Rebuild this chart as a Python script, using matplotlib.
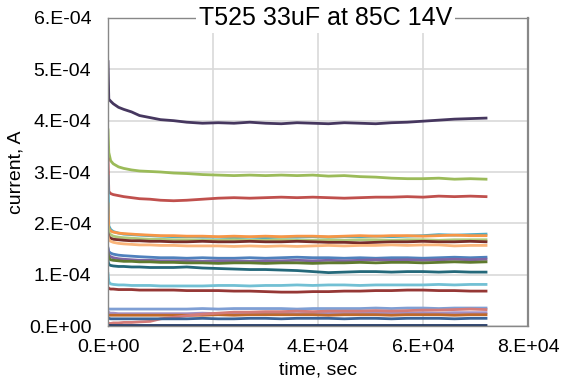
import matplotlib
matplotlib.use("Agg")
import matplotlib.pyplot as plt
from matplotlib.ticker import FuncFormatter, MultipleLocator

plt.rcParams["font.family"] = ["Liberation Sans", "DejaVu Sans"]

# sample times, seconds
time_s = [0, 150, 500, 1000, 2000, 3000, 4500, 6000, 8000, 10000, 12500, 15000,
          18000, 21000, 24000, 27000, 30000, 33000, 36000, 39000, 42000, 45000,
          48000, 51000, 54000, 57000, 60000, 63000, 66000, 69000, 72000]

# leakage current per part, in units of 1e-4 A
cur_purple_dk = [5.15, 4.42, 4.38, 4.33, 4.26, 4.22, 4.17, 4.10, 4.06, 4.02, 4.00, 3.97,
                 3.95, 3.96, 3.95, 3.97, 3.95, 3.94, 3.96, 3.95, 3.94, 3.96, 3.95, 3.94,
                 3.96, 3.97, 3.99, 4.01, 4.03, 4.04, 4.05]
cur_green = [3.82, 3.38, 3.22, 3.16, 3.10, 3.07, 3.04, 3.02, 3.01, 3.00, 2.98, 2.97,
             2.95, 2.94, 2.93, 2.94, 2.93, 2.94, 2.93, 2.94, 2.92, 2.93, 2.91, 2.90,
             2.88, 2.87, 2.87, 2.88, 2.86, 2.87, 2.86]
cur_red = [3.25, 2.62, 2.58, 2.56, 2.54, 2.52, 2.50, 2.48, 2.47, 2.45, 2.44, 2.45,
           2.47, 2.49, 2.50, 2.49, 2.50, 2.51, 2.50, 2.51, 2.50, 2.49, 2.50, 2.51,
           2.51, 2.52, 2.51, 2.53, 2.52, 2.53, 2.52]
cur_aqua = [2.92, 1.95, 1.88, 1.84, 1.81, 1.79, 1.78, 1.77, 1.76, 1.75, 1.74, 1.74,
            1.73, 1.73, 1.72, 1.73, 1.72, 1.73, 1.73, 1.74, 1.73, 1.74, 1.74, 1.75,
            1.74, 1.75, 1.76, 1.78, 1.77, 1.78, 1.79]
cur_orange = [2.38, 1.90, 1.85, 1.83, 1.81, 1.80, 1.79, 1.78, 1.77, 1.76, 1.76, 1.75,
              1.75, 1.74, 1.75, 1.74, 1.75, 1.74, 1.75, 1.75, 1.74, 1.75, 1.76, 1.75,
              1.76, 1.76, 1.75, 1.76, 1.77, 1.76, 1.76]
cur_green_lt = [1.95, 1.82, 1.78, 1.75, 1.73, 1.72, 1.71, 1.70, 1.69, 1.69, 1.68, 1.68,
                1.67, 1.67, 1.68, 1.67, 1.67, 1.68, 1.67, 1.67, 1.68, 1.67, 1.68, 1.68,
                1.67, 1.68, 1.68, 1.67, 1.68, 1.68, 1.68]
cur_maroon = [1.80, 1.74, 1.71, 1.69, 1.68, 1.67, 1.66, 1.66, 1.65, 1.65, 1.64, 1.64,
              1.65, 1.64, 1.64, 1.65, 1.64, 1.64, 1.65, 1.64, 1.63, 1.63, 1.62, 1.63,
              1.64, 1.64, 1.65, 1.64, 1.64, 1.65, 1.64]
cur_orange_lt = [1.75, 1.68, 1.65, 1.63, 1.61, 1.60, 1.59, 1.58, 1.58, 1.57, 1.57, 1.56,
                 1.56, 1.56, 1.55, 1.56, 1.55, 1.56, 1.55, 1.56, 1.57, 1.56, 1.57, 1.57,
                 1.58, 1.57, 1.58, 1.58, 1.56, 1.57, 1.57]
cur_blue = [1.52, 1.45, 1.42, 1.40, 1.38, 1.37, 1.36, 1.35, 1.34, 1.33, 1.33, 1.32,
            1.33, 1.32, 1.32, 1.33, 1.32, 1.33, 1.34, 1.33, 1.33, 1.32, 1.33, 1.32,
            1.33, 1.33, 1.32, 1.33, 1.34, 1.33, 1.34]
cur_purple = [1.50, 1.38, 1.35, 1.33, 1.31, 1.30, 1.29, 1.28, 1.28, 1.27, 1.27, 1.27,
              1.26, 1.27, 1.27, 1.26, 1.27, 1.27, 1.28, 1.27, 1.28, 1.27, 1.28, 1.29,
              1.28, 1.29, 1.28, 1.29, 1.30, 1.29, 1.30]
cur_olive = [1.42, 1.32, 1.29, 1.28, 1.27, 1.26, 1.26, 1.25, 1.25, 1.24, 1.24, 1.23,
             1.23, 1.22, 1.23, 1.23, 1.22, 1.23, 1.23, 1.22, 1.23, 1.23, 1.24, 1.23,
             1.24, 1.24, 1.23, 1.24, 1.25, 1.24, 1.25]
cur_teal = [1.27, 1.20, 1.18, 1.17, 1.16, 1.16, 1.15, 1.15, 1.14, 1.14, 1.14, 1.15,
            1.13, 1.12, 1.11, 1.10, 1.10, 1.09, 1.08, 1.06, 1.04, 1.05, 1.06, 1.06,
            1.05, 1.06, 1.06, 1.05, 1.06, 1.05, 1.05]
cur_cyan_lt = [1.02, 0.86, 0.82, 0.81, 0.80, 0.80, 0.79, 0.79, 0.79, 0.78, 0.78, 0.78,
               0.78, 0.79, 0.79, 0.78, 0.79, 0.79, 0.80, 0.79, 0.80, 0.80, 0.79, 0.80,
               0.80, 0.80, 0.80, 0.81, 0.80, 0.81, 0.81]
cur_brick = [0.75, 0.73, 0.72, 0.72, 0.71, 0.71, 0.71, 0.70, 0.70, 0.70, 0.70, 0.69,
             0.69, 0.69, 0.68, 0.68, 0.67, 0.66, 0.66, 0.67, 0.67, 0.68, 0.68, 0.69,
             0.69, 0.70, 0.70, 0.69, 0.69, 0.68, 0.68]
cur_periwinkle = [0.34, 0.33, 0.33, 0.33, 0.33, 0.33, 0.33, 0.33, 0.33, 0.33, 0.33, 0.33,
                  0.34, 0.33, 0.34, 0.34, 0.34, 0.34, 0.33, 0.34, 0.34, 0.34, 0.34, 0.35,
                  0.34, 0.35, 0.35, 0.34, 0.35, 0.35, 0.35]
cur_pink = [0.04, 0.05, 0.05, 0.06, 0.06, 0.07, 0.07, 0.08, 0.09, 0.14, 0.17, 0.20,
            0.23, 0.25, 0.27, 0.27, 0.28, 0.28, 0.29, 0.28, 0.29, 0.29, 0.29, 0.30,
            0.29, 0.30, 0.31, 0.31, 0.32, 0.33, 0.32]
cur_lilac = [0.28, 0.26, 0.25, 0.25, 0.24, 0.24, 0.24, 0.24, 0.24, 0.24, 0.24, 0.24,
             0.25, 0.24, 0.25, 0.24, 0.25, 0.25, 0.24, 0.25, 0.25, 0.25, 0.25, 0.25,
             0.26, 0.25, 0.26, 0.25, 0.26, 0.26, 0.26]
cur_rust = [0.22, 0.21, 0.21, 0.21, 0.21, 0.21, 0.21, 0.21, 0.21, 0.21, 0.21, 0.21,
            0.21, 0.22, 0.21, 0.22, 0.22, 0.22, 0.22, 0.22, 0.21, 0.22, 0.22, 0.22,
            0.21, 0.22, 0.22, 0.22, 0.21, 0.22, 0.22]
cur_steel = [0.16, 0.15, 0.14, 0.14, 0.14, 0.14, 0.14, 0.14, 0.14, 0.14, 0.14, 0.14,
             0.15, 0.14, 0.14, 0.15, 0.15, 0.14, 0.15, 0.15, 0.15, 0.14, 0.15, 0.15,
             0.14, 0.15, 0.15, 0.15, 0.14, 0.15, 0.15]
cur_navy = [0.02, 0.01, 0.01, 0.01, 0.01, 0.01, 0.01, 0.01, 0.01, 0.01, 0.01, 0.01,
            0.01, 0.01, 0.01, 0.01, 0.01, 0.01, 0.01, 0.01, 0.01, 0.01, 0.01, 0.01,
            0.01, 0.01, 0.01, 0.01, 0.01, 0.01, 0.01]

series = [
    (cur_purple_dk, "#46375f"),
    (cur_green, "#9bbb59"),
    (cur_red, "#c0504d"),
    (cur_aqua, "#4bacc6"),
    (cur_orange, "#f79646"),
    (cur_green_lt, "#b0c97a"),
    (cur_maroon, "#772c2a"),
    (cur_orange_lt, "#fab57a"),
    (cur_blue, "#4f81bd"),
    (cur_purple, "#8064a2"),
    (cur_olive, "#5f7a2e"),
    (cur_teal, "#24687a"),
    (cur_cyan_lt, "#72c0d4"),
    (cur_brick, "#953735"),
    (cur_periwinkle, "#7f9fd4"),
    (cur_lilac, "#a590c4"),
    (cur_rust, "#c0692a"),
    (cur_pink, "#d47b78"),
    (cur_steel, "#3a6498"),
    (cur_navy, "#203864"),
]


def excel_sci(v, pos):
    return f"{v:.0E}".replace("E", ".E")


fig = plt.figure(figsize=(5.64, 3.87), dpi=100)
ax = fig.add_axes([0.1915, 0.1576, 0.7447, 0.7959])

for vals, color in series:
    ax.plot(time_s, [v * 1e-4 for v in vals], color=color, lw=2.0,
            solid_joinstyle="round")

ax.set_xlim(0, 80000)
ax.set_ylim(0, 6e-4)
ax.xaxis.set_major_locator(MultipleLocator(20000))
ax.yaxis.set_major_locator(MultipleLocator(1e-4))
ax.xaxis.set_major_formatter(FuncFormatter(excel_sci))
ax.yaxis.set_major_formatter(FuncFormatter(excel_sci))
ax.tick_params(length=0, labelsize=14, labelcolor="black")
ax.tick_params(axis="x", pad=9)
ax.tick_params(axis="y", pad=12)
ax.grid(True, color="#d9d9d9", lw=1.2)
ax.set_axisbelow(True)
for side in ax.spines:
    ax.spines[side].set_color("#888888")
    ax.spines[side].set_linewidth(1.0)
ax.spines["right"].set_linewidth(1.6)

ax.set_xlabel("time, sec", fontsize=14, labelpad=4)
ax.set_ylabel("current, A", fontsize=14, labelpad=3)

ax.text(0.517, 1.0, "T525 33uF at 85C 14V", transform=ax.transAxes,
        ha="center", va="center", fontsize=18,
        bbox=dict(facecolor="white", edgecolor="none", pad=2))

fig.savefig("out.png", dpi=100)
